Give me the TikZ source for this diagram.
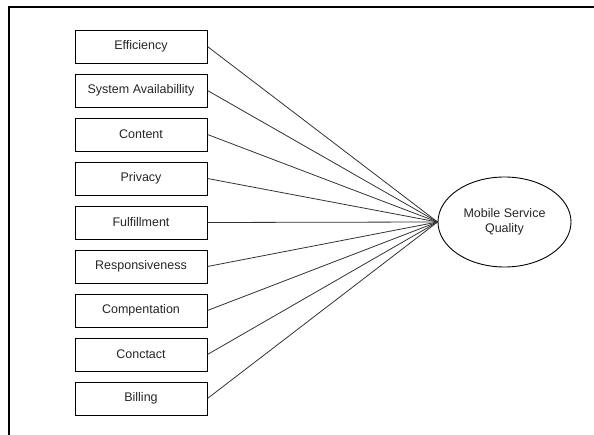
\documentclass[tikz,border=0pt]{standalone}
\usepackage{fontspec}
\setmainfont{Liberation Sans}
\usetikzlibrary{shapes.geometric}
\begin{document}
\begin{tikzpicture}[x=1pt,y=-1pt,
  factor/.style={draw, line width=0.9pt, minimum width=132pt, minimum height=33pt,
    inner sep=0pt, font=\fontsize{12.5}{15}\selectfont, text=black!85},
  target/.style={draw, ellipse, line width=0.9pt, minimum width=133pt, minimum height=90pt,
    inner sep=0pt, align=center, font=\fontsize{12.5}{15.5}\selectfont, text=black!85},
  link/.style={draw=black!80, line width=0.8pt}]
\useasboundingbox (0,0) rectangle (594,435);
% outer frame (top and left edges)
\draw[line width=1.5pt] (594,7) -- (9,7) -- (9,435);
% quality dimensions
\foreach \name/\label [count=\i from 0] in {eff/Efficiency, sys/System Availabillity,
    con/Content, pri/Privacy, ful/Fulfillment, res/Responsiveness,
    com/Compentation, cnt/Conctact, bil/Billing}
  \node[factor] (\name) at (141, 46.5+44*\i) {\label};
% overall construct
\node[target] (msq) at (504.5,222) {Mobile Service\\Quality};
\foreach \name in {eff,sys,con,pri,ful,res,com,cnt,bil}
  \draw[link] (\name.east) -- (msq.west);
\end{tikzpicture}
\end{document}
